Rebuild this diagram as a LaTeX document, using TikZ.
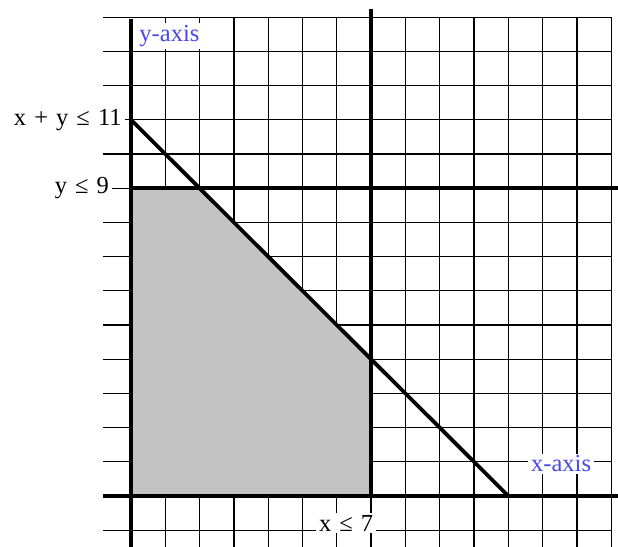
\documentclass[tikz,border=0pt]{standalone}
\usepackage{fontspec}
\setmainfont{Liberation Serif}
\definecolor{lpblue}{HTML}{4848E4}
\definecolor{lpshade}{HTML}{C3C3C3}
\newcommand{\wsp}{\hspace{0.33em}}

\begin{document}
\begin{tikzpicture}[
  x=34.3pt, y=34.2pt,
  grid/.style     = {draw=black, line width=1.3pt},
  bound/.style    = {draw=black, line width=3.8pt},
  feasible/.style = {fill=lpshade},
  axlabel/.style  = {fill=white, text=lpblue, font=\fontsize{24.5}{26}\selectfont,
                     inner xsep=3pt, inner ysep=2pt},
  conlabel/.style = {fill=white, text=black, font=\fontsize{24.5}{26}\selectfont,
                     inner xsep=3pt, inner ysep=2pt},
]
\useasboundingbox (-3.819,-1.462) rectangle (14.198,14.503);
% grid
\foreach \gy in {-1,...,14}
  \draw[grid] (-0.82,\gy) -- (14,\gy);
\foreach \gx in {1,...,14}
  \draw[grid] (\gx,14) -- (\gx,-1.5);
% feasible region
\fill[feasible] (0,0) -- (0,9) -- (2,9) -- (7,4) -- (7,0) -- cycle;
% axes and constraints
\draw[bound] (0,13.95) -- (0,-1.5);
\draw[bound] (-0.82,0) -- (14.2,0);
\draw[bound] (0,9) -- (14.2,9);
\draw[bound] (7,0) -- (7,14.25);
\draw[bound] (0,11) -- (11,0);
% labels
\node[axlabel]  (yax)  at (1.12,13.45) {y-axis};
\node[axlabel]  (xax)  at (12.54,0.94) {x-axis};
\node[conlabel, anchor=east] (csum) at (-0.18,11) {x\wsp+\wsp y\wsp≤\wsp11};
\node[conlabel, anchor=east] (cy)   at (-0.55,9)  {y\wsp≤\wsp9};
\node[conlabel] (cx) at (6.27,-0.79) {x\wsp≤\wsp7};
\end{tikzpicture}
\end{document}
